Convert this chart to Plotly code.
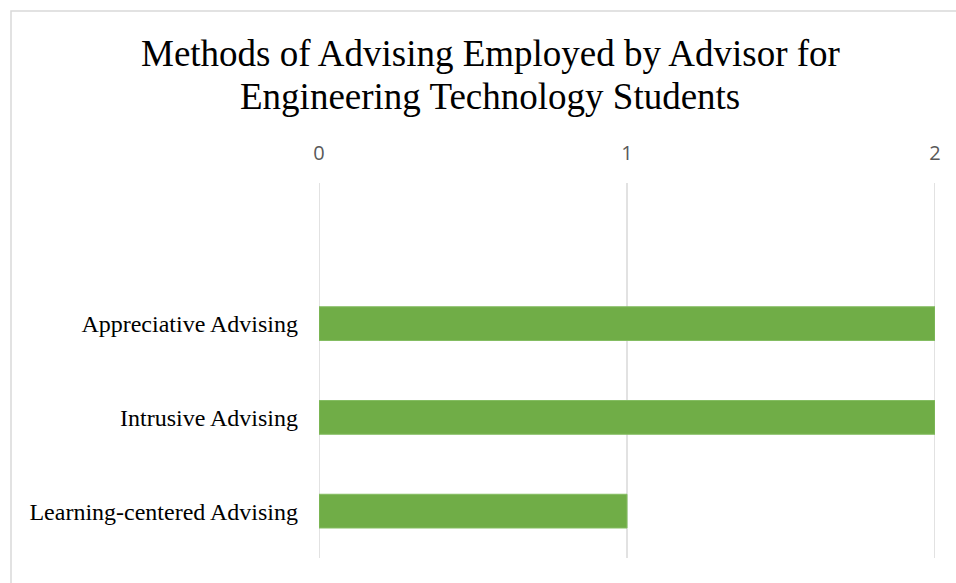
import plotly.graph_objects as go

categories = ["Learning-centered Advising", "Intrusive Advising", "Appreciative Advising"]
values = [1, 2, 2]
x_ticks = [0, 1, 2]
title_lines = ["Methods of Advising Employed by Advisor for", "Engineering Technology Students"]

W, H = 956, 583
L, R, T, B = 319, 21, 183, 25
pw, ph = W - L - R, H - T - B

SERIF = "Liberation Serif, Times New Roman, serif"

fig = go.Figure(go.Bar(
    x=values, y=categories, orientation="h",
    width=0.36,
    marker=dict(color="#70ad47", line=dict(color="#84bd62", width=1)),
))

def px_to_paper_x(px):
    return (px - L) / pw

def px_to_paper_y(py):
    return (H - B - py) / ph

# chart-area border
fig.add_shape(type="rect", xref="paper", yref="paper",
              x0=px_to_paper_x(11), x1=px_to_paper_x(W + 5),
              y0=px_to_paper_y(H + 5), y1=px_to_paper_y(11),
              line=dict(color="#d9d9d9", width=1.5), layer="below")

# gridlines at every tick (including the range edges)
for t in x_ticks:
    fig.add_shape(type="line", xref="x", yref="paper", x0=t, x1=t, y0=0, y1=1,
                  line=dict(color="#d9d9d9", width=1.5), layer="below")

# title lines
for i, (line, ypx) in enumerate(zip(title_lines, [54, 96])):
    fig.add_annotation(text=line, xref="paper", yref="paper",
                       x=px_to_paper_x(490), y=px_to_paper_y(ypx),
                       xanchor="center", yanchor="middle", showarrow=False,
                       font=dict(family=SERIF, size=37, color="#000000"))

fig.update_layout(
    width=W, height=H,
    margin=dict(l=L, r=R, t=T, b=B, autoexpand=False),
    paper_bgcolor="white", plot_bgcolor="white",
    showlegend=False,
    xaxis=dict(side="top", range=[0, 2], tickvals=x_ticks, showgrid=False,
               zeroline=False, showline=False,
               ticks="", ticklabelstandoff=18,
               tickfont=dict(family="Open Sans, Liberation Sans, sans-serif", size=20, color="#595959")),
    yaxis=dict(range=[-0.5, 3.5], showgrid=False, zeroline=False, showline=False,
               ticks="", ticklabelstandoff=20,
               tickfont=dict(family=SERIF, size=24, color="#000000")),
)

fig.write_html("out.html")
